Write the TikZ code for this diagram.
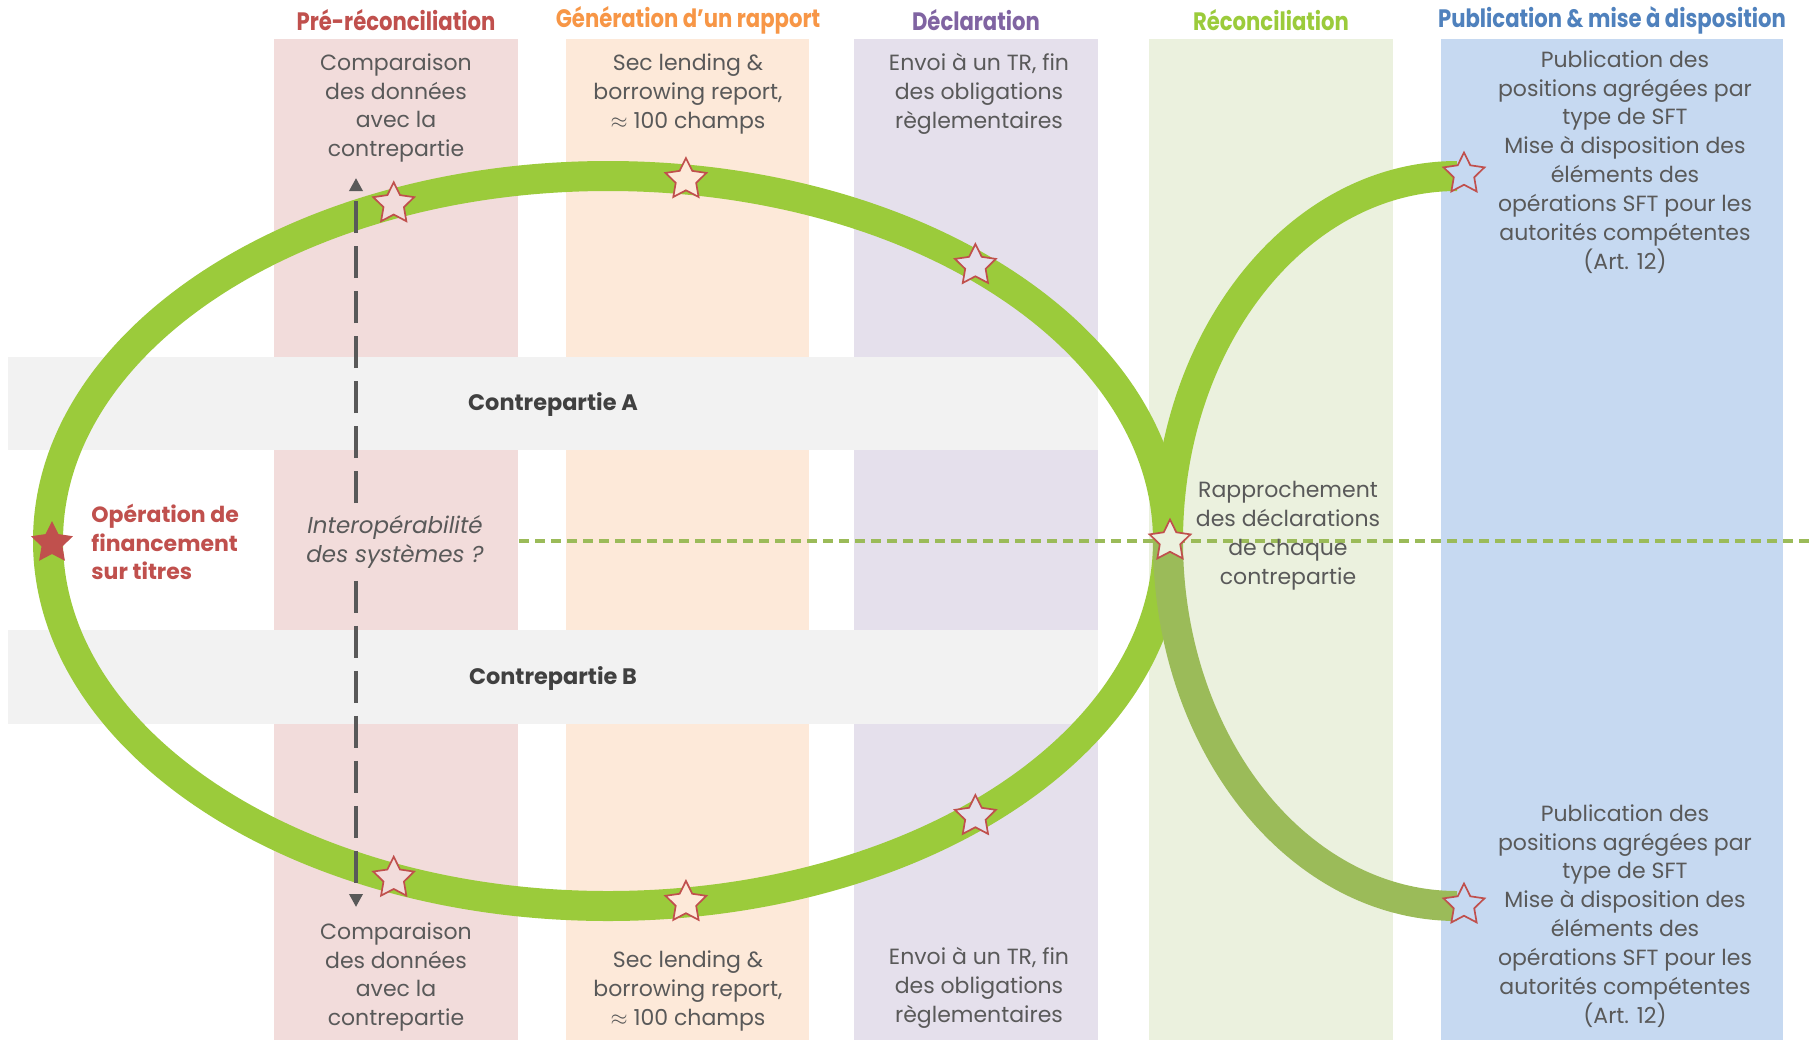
\documentclass[tikz,border=0pt]{standalone}
\usepackage{fontspec}
\setmainfont{Poppins}
\newfontfamily\titlefont[FakeStretch=0.84]{Poppins}
\usetikzlibrary{shapes.geometric,arrows.meta,calc}
\definecolor{colpink}{HTML}{F2DCDB}
\definecolor{colpeach}{HTML}{FDE9D9}
\definecolor{collav}{HTML}{E5E0EC}
\definecolor{colgreen}{HTML}{EBF1DE}
\definecolor{colblue}{HTML}{C6D9F1}
\definecolor{bandgray}{HTML}{F2F2F2}
\definecolor{ringgreen}{HTML}{9BCB3B}
\definecolor{olive}{HTML}{9BBB59}
\definecolor{tred}{HTML}{C0504D}
\definecolor{torange}{HTML}{F79646}
\definecolor{tpurple}{HTML}{8064A2}
\definecolor{tgreen}{HTML}{9BCB3B}
\definecolor{tblue}{HTML}{4F81BD}
\definecolor{txtgray}{HTML}{595959}
\definecolor{darkgray}{HTML}{404040}
\begin{document}
\begin{tikzpicture}[x=0.5pt,y=-0.5pt,
  body/.style={font=\fontsize{11}{14.45}\selectfont, text=txtgray, align=center, inner sep=0pt},
  coltitle/.style={font=\titlefont\bfseries\fontsize{12.6}{14}\selectfont, inner sep=0pt},
  bandlabel/.style={font=\bfseries\fontsize{11.2}{13}\selectfont, text=darkgray, inner sep=0pt},
  ministar/.style={star, star points=5, star point ratio=2.0, minimum size=21.5pt, inner sep=0pt,
    draw=tred, line width=0.85pt},
  bigstar/.style={star, star points=5, star point ratio=2.0, minimum size=22pt, inner sep=0pt,
    fill=tred},
  darr/.style={draw=txtgray, line width=1.75pt, dash pattern=on 16pt off 6.5pt,
    -{Triangle[width=6.5pt,length=6.5pt]}},
  hdash/.style={draw=olive, line width=1.7pt, dash pattern=on 5pt off 3pt}
]
\useasboundingbox (0,0) rectangle (1810,1040);
\fill[white] (0,0) rectangle (1810,1040);

% columns
\fill[colpink]  (274,39) rectangle (518,1040);
\fill[colpeach] (566,39) rectangle (809,1040);
\fill[collav]   (854,39) rectangle (1098,1040);
\fill[colgreen] (1149,39) rectangle (1393,1040);
\fill[colblue]  (1441,39) rectangle (1783,1040);
% counterparty bands
\fill[bandgray] (8,357) rectangle (1098,450);
\fill[bandgray] (8,630) rectangle (1098,724);

% horizontal dashed line
\coordinate (hL) at (519,541);
\coordinate (hR) at (1810,541);
\draw[hdash] (hL) -- (hR);

% ring and arcs
\draw[ringgreen, line width=15pt] (608,541) ellipse [x radius=280pt, y radius=182.5pt];
\draw[ringgreen, line width=15pt] (1168,541) arc[start angle=180, end angle=90, x radius=144.5pt, y radius=182.5pt];
\draw[olive, line width=15pt] (1168,541) arc[start angle=180, end angle=270, x radius=144.5pt, y radius=182.5pt];

% titles
\node[coltitle, text=tred]    (t1) at (396,20) {Pré-réconciliation};
\node[coltitle, text=torange] (t2) at (688,20) {Génération d’un rapport};
\node[coltitle, text=tpurple] (t3) at (976,20) {Déclaration};
\node[coltitle, text=tgreen]  (t4) at (1271,20) {Réconciliation};
\node[coltitle, text=tblue]   (t5) at (1612,20) {Publication \& mise à disposition};

% column texts (top)
\node[body] (c1t) at (396,108) {Comparaison\\des données\\avec la\\contrepartie};
\node[body] (c2t) at (688,94) {Sec lending \&\\borrowing report,\\$\approx$ 100 champs};
\node[body] (c3t) at (979,94) {Envoi à un TR, fin\\des obligations\\règlementaires};
\node[body] (c5t) at (1625,162) {Publication des\\positions agrégées par\\type de SFT\\Mise à disposition des\\éléments des\\opérations SFT pour les\\autorités compétentes\\(Art. 12)};
% column texts (bottom)
\node[body] (c1b) at (396,977) {Comparaison\\des données\\avec la\\contrepartie};
\node[body] (c2b) at (688,991) {Sec lending \&\\borrowing report,\\$\approx$ 100 champs};
\node[body] (c3b) at (979,988) {Envoi à un TR, fin\\des obligations\\règlementaires};
\node[body] (c5b) at (1625,916) {Publication des\\positions agrégées par\\type de SFT\\Mise à disposition des\\éléments des\\opérations SFT pour les\\autorités compétentes\\(Art. 12)};

\node[body] (rec) at (1288,536) {Rapprochement\\des déclarations\\de chaque\\contrepartie};
\node[body, font=\itshape\fontsize{11.5}{14.45}\selectfont] (interop) at (395,542) {Interopérabilité\\des systèmes ?};
\node[body, font=\bfseries\fontsize{11}{14.45}\selectfont, text=tred, align=left, anchor=west] (ops) at (91,542) {Opération de\\financement\\sur titres};

\node[bandlabel] (cpA) at (553,404) {Contrepartie A};
\node[bandlabel] (cpB) at (553,678) {Contrepartie B};

% dashed vertical arrow
\coordinate (aTop) at (356,178);
\coordinate (aBot) at (356,907);
\draw[darr, shorten <=6pt] (interop.north -| aTop) -- (aTop);
\draw[darr, shorten <=6pt] (interop.south -| aBot) -- (aBot);

% stars
\node[ministar, fill=colpink]  (s1) at ($(608,541)+(112.5:280pt and 182.5pt)$) {};
\node[ministar, fill=colpeach] (s2) at ($(608,541)+(82:280pt and 182.5pt)$) {};
\node[ministar, fill=collav]   (s3) at ($(608,541)+(49:280pt and 182.5pt)$) {};
\node[ministar, fill=colpink]  (s6) at ($(608,541)+(-112.5:280pt and 182.5pt)$) {};
\node[ministar, fill=colpeach] (s7) at ($(608,541)+(-82:280pt and 182.5pt)$) {};
\node[ministar, fill=collav]   (s8) at ($(608,541)+(-49:280pt and 182.5pt)$) {};
\node[ministar, fill=colgreen] (s5) at (1170,541) {};
\node[ministar, fill=colblue]  (s4) at (1464,174) {};
\node[ministar, fill=colblue]  (s9) at (1464,905) {};
\node[bigstar] (s0) at (52,543) {};
\end{tikzpicture}
\end{document}
